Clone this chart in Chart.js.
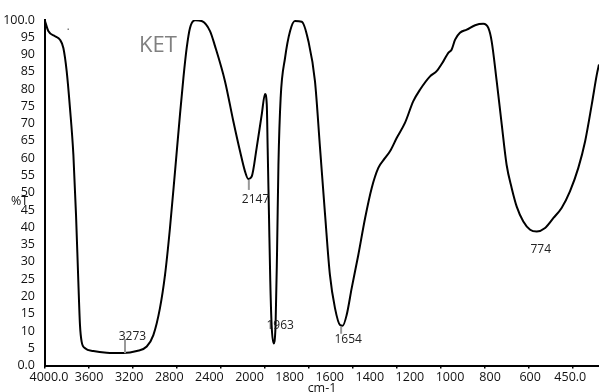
<!DOCTYPE html>
<html>
<head>
<meta charset="utf-8">
<script src="https://cdn.jsdelivr.net/npm/chart.js@4.4.1/dist/chart.umd.min.js"></script>
<style>
  html, body { margin: 0; padding: 0; background: #fff; }
  #caixa { width: 599px; height: 392px; position: relative; }
</style>
</head>
<body>
<div id="caixa"><canvas id="espectro"></canvas></div>
<script>
// espectro de infravermelho da amostra KET (%T x número de onda em cm-1)
const numerosOnda = [
  4000, 3970, 3909, 3864, 3833, 3803, 3773, 3742, 3718, 3697, 3682, 3667, 3636, 3561, 3439, 3288,
  3166, 3075, 3015, 2955, 2909, 2864, 2818, 2773, 2742, 2712, 2682, 2636, 2576, 2500, 2455, 2364,
  2288, 2227, 2182, 2152, 2121, 2076, 2030, 2000, 1992, 1988, 1982, 1976, 1970, 1961, 1952, 1945,
  1939, 1929, 1909, 1886, 1864, 1833, 1803, 1773, 1750, 1727, 1705, 1682, 1659, 1647, 1629, 1606,
  1576, 1545, 1515, 1485, 1455, 1432, 1401, 1364, 1326, 1295, 1250, 1220, 1189, 1167, 1152, 1136,
  1114, 1083, 1045, 1008, 985, 970, 947, 924, 902, 879, 856, 826, 795, 765, 727, 689,
  652, 614, 576, 545, 515, 492, 482
]
const transmitancia = [
  99.7, 96.8, 95.3, 94.3, 91.9, 85.2, 74.5, 61.0, 43.6, 24.3, 11.7, 6.9, 5.0, 4.2, 3.7, 3.6,
  4.2, 5.5, 8.8, 16.6, 26.2, 39.8, 56.2, 72.6, 83.2, 91.9, 97.7, 99.9, 99.7, 96.8, 92.5, 82.3,
  70.7, 62.0, 56.2, 54.0, 54.7, 63.0, 72.6, 78.6, 75.5, 63.0, 43.6, 24.3, 11.7, 6.4, 11.7, 34.0,
  58.1, 77.4, 89.0, 96.8, 99.7, 99.5, 93.9, 82.3, 63.0, 43.6, 26.2, 16.6, 11.7, 11.5, 14.6, 22.4,
  32.0, 42.7, 51.4, 57.2, 60.0, 62.0, 65.9, 70.2, 76.5, 79.9, 83.7, 85.2, 88.1, 90.5, 91.4, 94.3,
  96.3, 97.2, 98.5, 98.9, 97.7, 93.9, 82.3, 69.7, 58.1, 51.4, 46.0, 41.7, 39.3, 38.8, 39.8, 42.7,
  45.6, 50.4, 57.2, 64.9, 75.5, 84.2, 87.1
]
// rótulos impressos no eixo x
const rotulosX = ['4000.0', '3600', '3200', '2800', '2400', '2000', '1800', '1600', '1400', '1200', '1000', '800', '600', '450.0']
// picos marcados no espectro
const picosOnda = [3273, 2147, 1963, 1654, 774]
const picosT = [3.6, 54.0, 6.4, 11.5, 38.8]

// o eixo do aparelho é comprimido acima de 2000 cm-1: 400 cm-1 por divisão, abaixo disso 200 cm-1
const paraDivisao = w => (w >= 2000 ? (4000 - w) / 400 : 5 + (2000 - w) / 200)

const pontos = numerosOnda.map((w, i) => ({ x: paraDivisao(w), y: transmitancia[i] }))

const fonte = '"Open Sans", "DejaVu Sans", sans-serif'

// textos extras: picos, %T, KET
const anotacoes = {
  id: 'anotacoes',
  afterDatasetsDraw(chart) {
    const { ctx } = chart
    const x = chart.scales.x
    const y = chart.scales.y
    // deslocamento do rótulo e do tracinho em relação ao pico (px)
    const ajustes = {
      3273: { dx: 7.5, dy: -16, m0: 0, m1: -14 },
      2147: { dx: 6.7, dy: 21, m0: 1, m1: 11 },
      1963: { dx: 7, dy: -18, m0: 0, m1: 0 },
      1654: { dx: 7, dy: 14, m0: 1, m1: 8 },
      774: { dx: 6, dy: 18, m0: 0, m1: 0 },
    }
    ctx.save()
    picosOnda.forEach((w, i) => {
      const px = x.getPixelForValue(paraDivisao(w))
      const py = y.getPixelForValue(picosT[i])
      const a = ajustes[w]
      if (a.m1 !== a.m0) {
        ctx.strokeStyle = '#999'
        ctx.lineWidth = 2
        ctx.beginPath()
        ctx.moveTo(px, py + a.m0)
        ctx.lineTo(px, py + a.m1)
        ctx.stroke()
      }
      ctx.fillStyle = '#222'
      ctx.font = '12px ' + fonte
      ctx.textAlign = 'center'
      ctx.textBaseline = 'middle'
      ctx.fillText(String(w), px + a.dx, py + a.dy)
    })
    ctx.fillStyle = '#111'
    ctx.font = '12.5px ' + fonte
    ctx.textAlign = 'left'
    ctx.fillText('%T', 11, 201)
    ctx.fillStyle = '#808080'
    ctx.font = '22px ' + fonte
    ctx.textBaseline = 'alphabetic'
    ctx.fillText('KET', 139, 52)
    ctx.fillRect(67.5, 28.5, 1.5, 1.5)
    ctx.restore()
  },
}

new Chart(document.getElementById('espectro'), {
  type: 'line',
  data: {
    datasets: [{
      data: pontos,
      borderColor: '#000',
      borderWidth: 2,
      pointRadius: 0,
      fill: false,
      cubicInterpolationMode: 'monotone',
      xAxisID: 'x',
      yAxisID: 'y',
    }],
  },
  options: {
    responsive: true,
    maintainAspectRatio: false,
    animation: false,
    layout: { padding: { top: 20, right: 0, bottom: 0, left: 0 } },
    plugins: { legend: { display: false }, tooltip: { enabled: false } },
    scales: {
      x: {
        type: 'linear',
        position: 'bottom',
        weight: 0,
        min: 0,
        max: 12.59,
        afterBuildTicks: s => { s.ticks = rotulosX.slice(0, 13).map((_, i) => ({ value: i })) },
        afterFit: s => { s.height = 3 },
        ticks: { display: false },
        grid: { display: true, drawOnChartArea: false, drawTicks: true, tickLength: 3, color: '#000', lineWidth: 1.5 },
        border: { display: true, color: '#000', width: 2 },
      },
      x2: {
        type: 'linear',
        position: 'bottom',
        weight: 1,
        min: -0.0998,
        max: 13.716,
        afterBuildTicks: s => { s.ticks = rotulosX.map((_, i) => ({ value: i })) },
        afterFit: s => { s.height = 23.5 },
        ticks: {
          autoSkip: false,
          maxRotation: 0,
          padding: -7,
          color: '#111',
          font: { family: fonte, size: 12.5 },
          callback: v => rotulosX[Math.round(v)],
        },
        grid: { display: false },
        border: { display: false },
        title: { display: true, text: 'cm-1', color: '#111', font: { family: fonte, size: 12.5 }, padding: { top: -7, bottom: -4 } },
      },
      y: {
        type: 'linear',
        min: 0,
        max: 100,
        afterFit: s => { s.width = 45 },
        afterBuildTicks: s => {
          const t = []
          for (let v = 0; v <= 100; v += 5) t.push({ value: v })
          s.ticks = t
        },
        ticks: {
          autoSkip: false,
          padding: 2,
          color: '#111',
          font: { family: fonte, size: 12.5 },
          callback: v => (v === 0 || v === 100 ? v.toFixed(1) : String(v)),
        },
        grid: { display: false },
        border: { display: true, color: '#000', width: 2 },
      },
    },
  },
  plugins: [anotacoes],
})
</script>
</body>
</html>
